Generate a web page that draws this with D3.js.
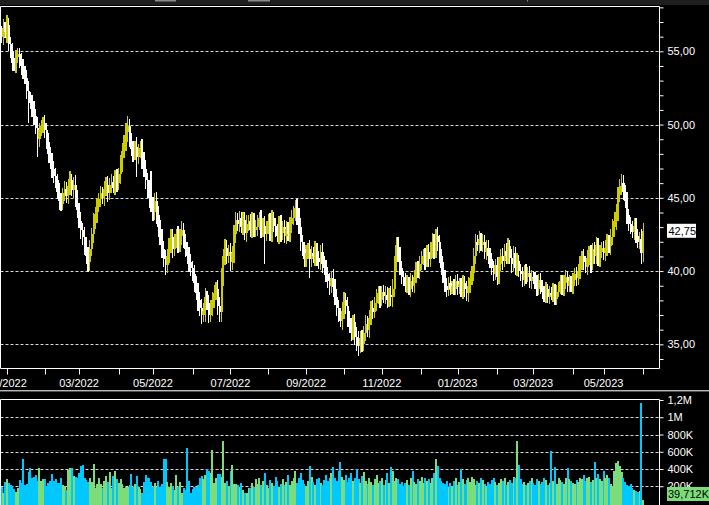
<!DOCTYPE html>
<html><head><meta charset="utf-8">
<script src="https://cdn.jsdelivr.net/npm/d3@7"></script>
<style>html,body{margin:0;padding:0;background:#000;overflow:hidden}</style>
</head><body><svg id="c" width="709" height="505"></svg>
<script>
// ---------- DATA ----------
const firstOpen = 56.3;
const closes = [
56.0,56.6,56.3,56.8,55.5,55.0,54.2,54.0,54.6,54.8,
54.3,54.0,53.6,53.2,52.3,51.8,51.5,51.0,50.6,49.8,
49.0,49.6,49.9,50.1,49.6,48.8,48.0,47.4,47.0,46.5,
46.2,45.4,44.8,44.6,45.3,45.6,45.1,45.8,46.2,45.5,
45.9,45.0,44.2,43.4,42.8,42.3,41.8,41.0,40.6,41.5,
42.5,43.4,43.9,44.4,44.9,45.3,45.0,45.6,45.9,45.3,
45.9,46.1,45.7,46.4,46.0,46.6,47.3,48.2,48.8,49.5,
49.9,49.0,48.3,48.0,48.5,47.8,48.2,48.4,47.6,47.0,
46.2,45.5,45.0,44.5,44.0,44.8,43.8,43.0,42.3,41.5,
40.8,40.4,41.0,41.8,42.3,41.5,42.0,42.5,41.8,42.4,
42.8,42.0,41.5,41.0,40.6,40.2,39.8,39.2,38.5,38.0,
37.5,37.0,37.3,38.2,37.8,37.0,37.5,38.0,38.5,38.8,
37.6,37.2,39.5,41.0,41.6,41.0,41.3,40.6,41.2,42.5,
43.5,43.2,43.6,43.0,43.5,42.6,43.2,43.4,42.8,43.5,
42.8,43.0,43.2,43.6,42.8,43.1,42.5,43.0,43.4,42.6,43.6,
43.1,
42.8,42.4,43.2,42.6,43.0,42.4,42.9,42.5,43.2,43.6,
44.0,44.3,43.8,43.0,42.0,41.5,40.8,41.2,41.5,40.8,
41.2,41.0,41.4,40.9,40.6,41.3,40.5,40.2,39.8,39.3,
39.0,
39.5,38.9,38.2,37.5,37.0,36.6,37.3,38.0,37.6,36.8,
36.2,35.8,36.5,35.5,35.2,34.9,35.4,35.0,35.8,36.4,
36.0,36.8,37.5,37.2,37.8,38.2,38.5,38.0,38.6,38.3,
38.4,38.0,38.4,38.2,38.8,40.5,41.8,41.2,40.2,39.6,
39.4,39.0,39.2,38.8,39.3,39.0,39.6,40.2,40.0,40.5,
40.9,
41.0,40.7,41.3,40.8,41.5,42.0,41.4,42.4,42.0,41.0,
40.2,39.6,39.0,38.7,39.2,38.8,39.0,38.8,39.3,38.9,
39.1,38.6,39.2,38.8,38.5,39.0,39.5,39.9,41.0,42.0,
41.8,42.2,41.8,42.0,41.3,41.6,41.0,40.8,40.2,39.8,
40.4,39.6,40.5,41.0,40.7,41.4,41.0,41.7,40.9,40.5,
41.2,40.2,40.7,40.0,39.8,39.4,40.0,39.6,39.9,39.3,
39.6,39.5,39.2,38.8,39.4,38.9,38.6,38.3,38.8,38.2,
38.5,38.4,38.7,38.1,38.6,38.9,39.3,38.8,39.2,39.6,
39.0,39.3,38.9,
39.4,39.8,39.5,40.0,40.5,41.0,40.6,40.3,40.9,41.2,
40.5,41.5,41.0,41.8,40.8,41.3,41.6,41.2,41.6,42.0,
41.7,42.3,43.0,43.4,44.0,45.2,45.8,46.0,45.4,44.8,
43.8,43.2,43.0,42.7,43.1,42.4,42.0,42.2,41.2,42.75
];
// estimated total wick length of each day beyond its body, in tenths of a real
const wickLen = [
9,12,8,14,10,9,11,7,10,8,9,12,10,8,11,13,9,10,12,9,
14,10,8,9,11,10,12,9,13,10,11,9,12,10,8,11,9,10,12,8,
10,13,11,9,12,10,14,11,13,12,9,11,10,12,8,10,9,11,10,12,
9,11,8,10,12,9,13,11,10,12,14,10,9,11,8,13,10,9,12,11,
12,10,14,9,11,10,12,13,10,12,11,13,10,9,11,12,10,8,11,10,
12,9,11,10,13,11,10,12,9,14,11,12,10,13,9,11,10,12,11,9,
12,13,14,10,12,11,9,12,10,13,11,9,10,8,11,10,12,9,10,11,
9,10,12,8,11,10,13,9,10,11,12,9,10,8,11,12,9,10,11,9,
10,12,9,11,13,10,12,9,10,11,8,12,10,9,13,11,9,10,12,10,
11,9,12,10,13,11,12,10,9,12,11,10,13,9,12,10,11,13,14,10,
11,9,12,10,11,9,10,8,11,9,10,8,9,11,10,9,12,13,11,10,
11,9,10,8,9,10,8,11,9,10,8,10,11,9,10,12,9,11,10,12,
11,10,12,9,10,8,9,10,8,9,7,9,8,10,9,8,10,9,11,12,
10,9,11,10,9,11,8,10,9,11,10,12,9,10,8,11,9,10,12,9,
10,11,9,12,10,9,11,8,9,10,8,9,7,9,10,8,9,10,8,9,
10,8,9,7,9,8,10,8,9,7,9,8,10,9,8,9,7,9,8,10,
9,11,8,10,9,11,10,12,9,10,11,9,10,8,9,10,11,9,12,11,
13,12,11,10,12,11,10,12,9,10,9,11,10,9,10,14,11
];
// notable wick extremes: [dayIndex, value]
const wickHighs = [[3,57.3],[83,46.8],[175,41.9],[219,42.1],[241,42.7],[265,42.5],[344,46.2]];
const wickLows = [[15,50.1],[20,47.8],[32,44.3],[48,40.2],[75,46.4],[113,36.5],[121,36.8],[146,40.5],[171,39.5],[198,34.5],[248,38.3],[257,38.2],[303,37.8],[355,40.5]];
// volume in thousands
const volumes = [
195,126,254,285,235,220, 203,165,137,177,273,240, 517,215,227,370,409,300, 312,331,265,409,265,280,
285,203,235,265,343,260, 281,242,235,293,215,200, 157,390,409,409,320,310, 293,351,436,448,293,270,
246,293,246,459,184,230, 293,223,177,262,320,250, 363,177,320,378,281,240, 281,223,177,195,188,210,
343,195,223,316,195,170, 118,246,328,293,293,250, 195,235,195,262,195,230, 517,517,250,195,235,200,
157,331,195,250,118,180, 157,642,262,118,169,190, 195,211,293,320,281,330, 401,378,351,622,235,290,
343,343,304,727,235,260, 203,381,448,223,223,210, 195,235,157,118,126, 177,177,
240,190,280,230,300,210,260,350,220,180,270,240,200,310,260,190,230,280,210,250,330,220,
260,300,380,240,290,350,270,230,200,260,440,310,250,220,280,300,240,210,270,330,260,290,
350,420,300,260,380,480,310,270,330,250,290,350,260,300,400,280,240,320,370,260,230,290,
250,210,280,330,240,260,300,220,270,350,240,420,380,260,300,280,230,250,200,240,270,220,
300,380,250,230,280,260,310,240,300,260,280,240,300,350,520,430,290,260,240,230,260,190,
240,200,260,300,220,250,400,280,230,270,300,250,310,280,220,260,240,290,270,230,200,250,
230,270,300,250,210,240,280,260,300,220,250,270,240,310,290,720,450,280,230,250,210,240,
260,300,240,220,280,260,230,250,300,270,210,240,610,260,420,230,290,270,250,230,300,410,
280,260,240,230,270,250,300,280,330,260,290,310,250,270,480,300,340,280,260,380,300,330,
293,223,205,380,470,490,440,360,300,250,220,200,230,180,160,140,130,150,1160,40
];
const monthLabels = ["01/2022","02/2022","03/2022","04/2022","05/2022","06/2022","07/2022","08/2022","09/2022","10/2022","11/2022","12/2022","01/2023","02/2023","03/2023","04/2023","05/2023","06/2023"];
const tradingDaysInMonth = [21,19,22,19,22,21,21,21,21,21,22,20,22,20,22,17,22];
const daysBeforeFirstMonth = 3;
const priceTicks = [35,40,45,50,55];
const volTicks = [200,400,600,800,1000,1200];
const volTickLabels = ["200K","400K","600K","800K","1M","1,2M"];
const lastPriceLabel = "42,75";
const lastVolumeLabel = "39,712K";

// ---------- LAYOUT ----------
const W = 709, H = 505;
const P = {left:0.5, right:659.5, top:6.5, bottom:368.5};
const V = {top:399.5, bottom:503.5};
const YEL = "#cccc00", WHT = "#ffffff", GRN = "#7ddc7a", CYN = "#00c8ff";
const FONT = "Liberation Sans, Arial, sans-serif";

const svg = d3.select("#c");
svg.append("rect").attr("width",W).attr("height",H).attr("fill","#000");
svg.append("rect").attr("x",0).attr("y",0).attr("width",W).attr("height",5).attr("fill","#1e1e1e");
[[155,21],[248,22],[527,1]].forEach(d=>svg.append("rect").attr("x",d[0]).attr("y",0).attr("width",d[1]).attr("height",1.5).attr("fill","#8c8c8c"));

const n = closes.length;
const opens = closes.map((c,i)=> i===0 ? firstOpen : closes[i-1]);
const highs = closes.map((c,i)=> Math.max(c, opens[i]) + wickLen[i]/20);
const lows = closes.map((c,i)=> Math.min(c, opens[i]) - wickLen[i]/20);
wickHighs.forEach(([i,v])=>{ if(i<n) highs[i]=Math.max(highs[i],v); });
wickLows.forEach(([i,v])=>{ if(i<n) lows[i]=Math.min(lows[i],v); });
const days = d3.range(n).map(i=>({i, o:opens[i], c:closes[i], h:highs[i], l:lows[i], v:volumes[i]||0}));

const x = d3.scaleLinear().domain([0,356]).range([1.5,643.2]);
const step = x(1)-x(0);
const y = d3.scaleLinear().domain([33.37,58.08]).range([368.2,6.2]);
const yv = d3.scaleLinear().domain([0,1200]).range([V.bottom, V.top+0.5]);

const defs = svg.append("defs");
defs.append("clipPath").attr("id","cp").append("rect").attr("x",P.left).attr("y",P.top).attr("width",P.right-P.left).attr("height",P.bottom-P.top);
defs.append("clipPath").attr("id","cv").append("rect").attr("x",P.left).attr("y",V.top).attr("width",P.right-P.left).attr("height",H-V.top);

// price grid
svg.append("g").selectAll("line").data(priceTicks).join("line")
  .attr("x1",P.left).attr("x2",P.right).attr("y1",d=>Math.round(y(d))+0.5).attr("y2",d=>Math.round(y(d))+0.5)
  .attr("stroke","#d8d8d8").attr("stroke-dasharray","3,2").attr("stroke-width",1);

// candles
const cg = svg.append("g").attr("clip-path","url(#cp)").attr("shape-rendering","crispEdges");
cg.selectAll("line").data(days).join("line")
  .attr("x1",d=>x(d.i)).attr("x2",d=>x(d.i)).attr("y1",d=>y(d.h)).attr("y2",d=>y(d.l))
  .attr("stroke",d=>d.c>=d.o?YEL:WHT).attr("stroke-width",1.3);
cg.selectAll("rect").data(days).join("rect")
  .attr("x",d=>x(d.i)-step/2).attr("width",step+0.3)
  .attr("y",d=>y(Math.max(d.o,d.c))).attr("height",d=>Math.max(1,Math.abs(y(d.o)-y(d.c))))
  .attr("fill",d=>d.c>=d.o?YEL:WHT);

svg.append("path").attr("d",`M${P.left},${P.bottom}V${P.top}H${P.right}V${P.bottom}H${P.left}`)
  .attr("fill","none").attr("stroke","#fff").attr("stroke-width",1);

// right price axis
const yAxis = d3.axisRight(y).tickValues(d3.range(34,59)).tickSize(4)
  .tickFormat(d=>priceTicks.includes(d)? d3.format(".2f")(d).replace(".",",") : "");
const ya = svg.append("g").attr("transform",`translate(${P.right},0)`).call(yAxis);
ya.select(".domain").remove();
ya.selectAll("line").attr("stroke","#fff");
ya.selectAll("text").attr("fill","#fff").attr("font-family",FONT).attr("font-size",11).attr("x",8);

const lpY = y(42.75);
svg.append("rect").attr("x",667).attr("y",lpY-7).attr("width",29).attr("height",14).attr("fill","#fff");
svg.append("text").attr("x",668.5).attr("y",lpY+4).attr("fill","#000").attr("font-family",FONT).attr("font-size",11).text(lastPriceLabel);

// month ticks
let acc = daysBeforeFirstMonth; const monthIdx = [acc];
tradingDaysInMonth.forEach(c=>{acc+=c; monthIdx.push(acc);});
const months = monthLabels.map((l,k)=>({l, i:monthIdx[k], show:k%2===0}));
const xa = svg.append("g");
xa.selectAll("line").data(months).join("line")
  .attr("x1",d=>Math.round(x(d.i))+0.5).attr("x2",d=>Math.round(x(d.i))+0.5)
  .attr("y1",P.bottom).attr("y2",P.bottom+6).attr("stroke","#fff");
xa.selectAll("text").data(months.filter(d=>d.show)).join("text")
  .attr("x",d=>x(d.i)).attr("y",387).attr("text-anchor","middle")
  .attr("fill","#fff").attr("font-family",FONT).attr("font-size",11).text(d=>d.l);

svg.append("rect").attr("x",0).attr("y",390).attr("width",W).attr("height",1).attr("fill","#b8b8b8");
svg.append("rect").attr("x",0).attr("y",391).attr("width",W).attr("height",1).attr("fill","#505050");

// volume grid
svg.append("g").selectAll("line").data(volTicks.slice(0,5)).join("line")
  .attr("x1",P.left).attr("x2",P.right).attr("y1",d=>Math.round(yv(d))+0.5).attr("y2",d=>Math.round(yv(d))+0.5)
  .attr("stroke","#d8d8d8").attr("stroke-dasharray","3,2");

const vg = svg.append("g").attr("clip-path","url(#cv)").attr("shape-rendering","crispEdges");
vg.selectAll("rect").data(days).join("rect")
  .attr("x",d=>x(d.i)-step/2).attr("width",step+0.2)
  .attr("y",d=>yv(d.v)).attr("height",d=>H-yv(d.v))
  .attr("fill",d=>d.c>=d.o?GRN:CYN);

svg.append("path").attr("d",`M${P.left},${H}V${V.top}H${P.right}V${H}`).attr("fill","none").attr("stroke","#fff");

const va = svg.append("g").attr("transform",`translate(${P.right},0)`)
  .call(d3.axisRight(yv).tickValues(volTicks).tickSize(4).tickFormat((d,k)=>volTickLabels[k]));
va.select(".domain").remove();
va.selectAll("line").attr("stroke","#fff");
va.selectAll("text").attr("fill","#fff").attr("font-family",FONT).attr("font-size",11).attr("x",8);

svg.append("rect").attr("x",667).attr("y",487).attr("width",42).attr("height",14).attr("fill",GRN);
svg.append("text").attr("x",668).attr("y",498).attr("fill","#000").attr("font-family",FONT).attr("font-size",11).text(lastVolumeLabel);
</script></body></html>
